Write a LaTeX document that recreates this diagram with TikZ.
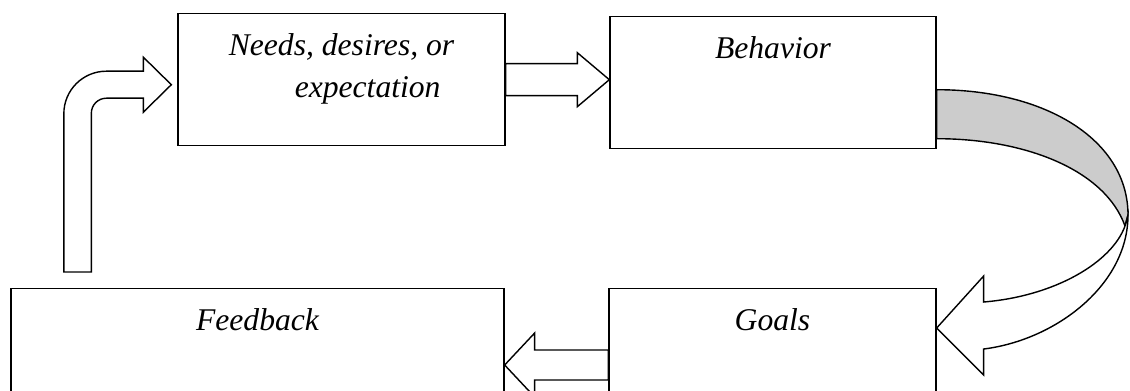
\documentclass[tikz,border=0pt]{standalone}
\usepackage{fontspec}
\setmainfont{Liberation Serif}
\usetikzlibrary{calc,positioning}

\tikzset{
  box/.style={draw, line width=0.8pt, fill=white, inner sep=0pt,
    text height=0.83cm, text depth=1.81cm,
    font=\itshape\fontsize{18}{24}\selectfont},
  fat/.style={draw, line width=0.8pt, fill=white, line join=miter},
}

\begin{document}
\begin{tikzpicture}[x=0.02cm, y=-0.02cm]
  \useasboundingbox (0,0) rectangle (1130,390);
  \clip (0,0) rectangle (1130,390);
  % boxes
  \node[box, minimum width=6.54cm, anchor=north, align=left,
    text height=1.67cm, text depth=0.97cm] (needs) at (341.5,13)
    {Needs, desires, or\\\hspace*{1.32cm}expectation};
  \node[box, minimum width=6.52cm, anchor=north] (behav) at (773,16) {Behavior};
  \node[box, minimum width=9.86cm, anchor=north] (feedback) at (257.5,288) {Feedback};
  \node[box, minimum width=6.54cm, anchor=north] (goals) at (772.5,288) {Goals};

  % needs -> behavior
  \draw[fat] ($(needs.east)+(0,-16)$) -- ($(needs.east -| behav.west)+(-32,-16)$)
    -- ++(0,-11) -- (needs.east -| behav.west) -- ($(needs.east -| behav.west)+(-32,27)$)
    -- ++(0,-11) -- ($(needs.east)+(0,16)$) -- cycle;

  % behavior -> goals
  \coordinate (bt) at ($(behav.east)+(0,7)$);
  \coordinate (bb) at ($(behav.east)+(0,56)$);
  \coordinate (gt) at ($(goals.north east)+(0,40)$);
  \draw[fat, fill=black!20] (bt) .. controls +(109,0) and +(0,-75) .. (1128,215)
    -- (1125,226) .. controls +(-20,-56) and +(89,0) .. (bb) -- cycle;
  \draw[fat] (1125,226) .. controls +(-13,36) and +(72,-6) .. ($(gt)+(47,-26)$)
    -- ++(0,-26) -- (gt) -- ($(gt)+(47,47)$) -- ++(0,-26)
    .. controls +(72,-9) and +(0,70) .. (1128,215) -- cycle;

  % goals -> feedback
  \coordinate (gin) at ($(goals.north west)+(0,77)$);
  \draw[fat] ($(gin)+(0,-15)$) -- ($(gin -| feedback.east)+(30,-15)$) -- ++(0,-17)
    -- (gin -| feedback.east) -- ($(gin -| feedback.east)+(30,32)$) -- ++(0,-17)
    -- ($(gin)+(0,15)$) -- cycle;

  % feedback -> needs
  \coordinate (ft) at ($(feedback.north west)+(53.5,-16)$);
  \coordinate (nt) at ($(needs.west)+(-6,5)$);
  \coordinate (bend) at (ft |- nt);
  \draw[fat] (ft) -- ($(bend)+(0,29)$) .. controls +(0,-23.5) and +(-23.5,0) .. ($(bend)+(42.5,-13.5)$)
    -- ($(nt)+(-28,-13.5)$) -- ++(0,-14) -- (nt) -- ($(nt)+(-28,27.5)$) -- ++(0,-14)
    -- ($(bend)+(42.5,13.5)$) .. controls +(-8.3,0) and +(0,-8.3) .. ($(bend)+(27.5,28.5)$)
    -- ($(ft)+(27.5,0)$) -- cycle;
\end{tikzpicture}
\end{document}
